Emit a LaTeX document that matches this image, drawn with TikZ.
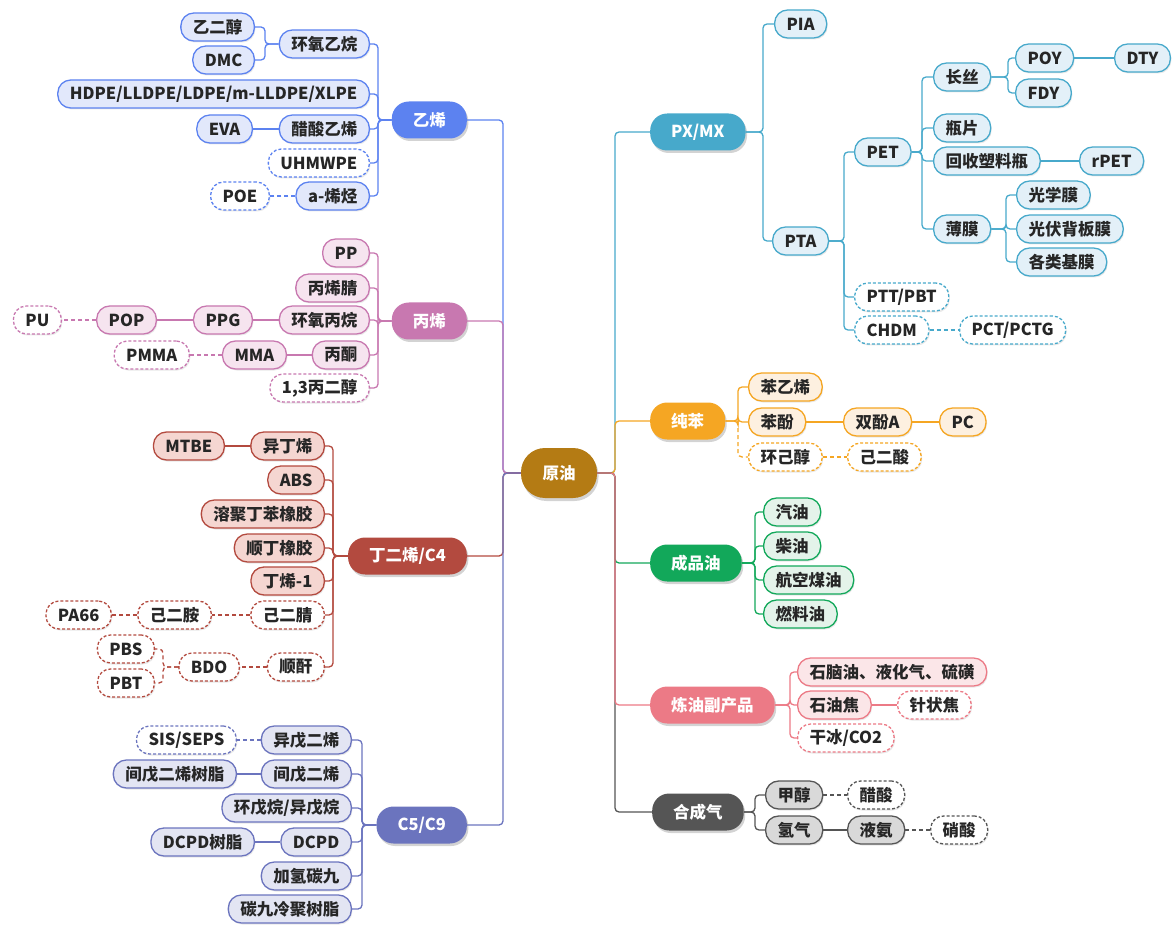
\documentclass[tikz,border=0pt]{standalone}
\usepackage{fontspec}
\setmainfont{Noto Sans CJK SC}
\usetikzlibrary{shadows}

% branch colours: A = line, B = fill
\definecolor{yyA}{HTML}{B47B14}
\definecolor{yxA}{HTML}{5C82F0} \definecolor{yxB}{HTML}{E2E8FB}
\definecolor{bxA}{HTML}{C878B0} \definecolor{bxB}{HTML}{F6E4EF}
\definecolor{dxA}{HTML}{B34A3F} \definecolor{dxB}{HTML}{F5D6D1}
\definecolor{cwA}{HTML}{6B74BE} \definecolor{cwB}{HTML}{E3E5F3}
\definecolor{pxA}{HTML}{47A9CB} \definecolor{pxB}{HTML}{E3F0F8}
\definecolor{cbA}{HTML}{F5A623} \definecolor{cbB}{HTML}{FDF0E0}
\definecolor{cpA}{HTML}{12A85A} \definecolor{cpB}{HTML}{E4F3EA}
\definecolor{lyA}{HTML}{EC7A86} \definecolor{lyB}{HTML}{FBE6E8}
\definecolor{hcA}{HTML}{555555} \definecolor{hcB}{HTML}{D9D9D9}

\newcommand\mfont{\fontsize{16.5}{18}\selectfont\bfseries}

\tikzset{
  rootbox/.style={fill=yyA, text=white, font=\mfont, rounded corners=24pt,
    minimum height=50pt, minimum width=76pt, inner xsep=20pt, inner ysep=0pt,
    drop shadow={shadow xshift=1.5pt, shadow yshift=-3pt, opacity=0.35}},
  mainbox/.style={fill=#1A, text=white, font=\mfont, rounded corners=17pt,
    minimum height=37pt, inner xsep=21pt, inner ysep=0pt,
    drop shadow={shadow xshift=1.5pt, shadow yshift=-2.5pt, opacity=0.35}},
  kid/.style={draw=#1A, fill=#1B, line width=1.3pt, text=black!85, font=\mfont,
    rounded corners=13pt, minimum height=28pt, inner xsep=12pt, inner ysep=0pt,
    drop shadow={shadow xshift=1pt, shadow yshift=-1.5pt, opacity=0.18}},
  dkid/.style={kid=#1, fill=white, dash pattern=on 3pt off 2pt},
  lk/.style={draw=#1A, line width=1.3pt, rounded corners=4pt},
  dlk/.style={lk=#1, dash pattern=on 4pt off 3pt},
}

\begin{document}
\begin{tikzpicture}[x=1pt, y=-1pt]
\useasboundingbox (0,0) rectangle (1173,925);

% root
\node[rootbox] (root) at (559,473) {原油};
\coordinate (tl) at (503,473);
\coordinate (tr) at (615,473);

% ---------- 乙烯 ----------
\node[mainbox=yx, anchor=east] (yx) at (467,120) {乙烯};
\node[kid=yx, anchor=east] (yx1) at (370,44) {环氧乙烷};
\node[kid=yx, anchor=east] (yx2) at (370,94) {HDPE/LLDPE/LDPE/m-LLDPE/XLPE};
\node[kid=yx, anchor=east] (yx3) at (370,129) {醋酸乙烯};
\node[dkid=yx, anchor=east] (yx4) at (370,163) {UHMWPE};
\node[kid=yx, anchor=east] (yx5) at (370,196) {a-烯烃};
\node[kid=yx, anchor=east] (yx11) at (255,27) {乙二醇};
\node[kid=yx, anchor=east] (yx12) at (255,60) {DMC};
\node[kid=yx, anchor=east] (yx31) at (253,129) {EVA};
\node[dkid=yx, anchor=east] (yx51) at (270,196) {POE};
\coordinate (yxbus) at (378,120);
\coordinate (yx1bus) at (265,44);

% ---------- 丙烯 ----------
\node[mainbox=bx, anchor=east] (bx) at (467,321) {丙烯};
\node[kid=bx, anchor=east] (bx1) at (370,253) {PP};
\node[kid=bx, anchor=east] (bx2) at (370,288) {丙烯腈};
\node[kid=bx, anchor=east] (bx3) at (370,320) {环氧丙烷};
\node[kid=bx, anchor=east] (bx4) at (370,355) {丙酮};
\node[dkid=bx, anchor=east] (bx5) at (370,388) {1,3丙二醇};
\node[kid=bx, anchor=east] (bx31) at (253,320) {PPG};
\node[kid=bx, anchor=east] (bx311) at (157,320) {POP};
\node[dkid=bx, anchor=east] (bx3111) at (62,320) {PU};
\node[kid=bx, anchor=east] (bx41) at (287,355) {MMA};
\node[dkid=bx, anchor=east] (bx411) at (190,355) {PMMA};
\coordinate (bxbus) at (378,321);

% ---------- 丁二烯/C4 ----------
\node[mainbox=dx, anchor=east] (dx) at (467,556) {丁二烯/C4};
\node[kid=dx, anchor=east] (dx1) at (325,446) {异丁烯};
\node[kid=dx, anchor=east] (dx2) at (325,480) {ABS};
\node[kid=dx, anchor=east] (dx3) at (325,514) {溶聚丁苯橡胶};
\node[kid=dx, anchor=east] (dx4) at (325,548) {顺丁橡胶};
\node[kid=dx, anchor=east] (dx5) at (325,581) {丁烯-1};
\node[dkid=dx, anchor=east] (dx6) at (325,615) {己二腈};
\node[dkid=dx, anchor=east] (dx7) at (325,667) {顺酐};
\node[kid=dx, anchor=east] (dx11) at (225,446) {MTBE};
\node[dkid=dx, anchor=east] (dx61) at (212,615) {己二胺};
\node[dkid=dx, anchor=east] (dx611) at (112,615) {PA66};
\node[dkid=dx, anchor=east] (dx71) at (240,667) {BDO};
\node[dkid=dx, anchor=east] (dx711) at (155,649) {PBS};
\node[dkid=dx, anchor=east] (dx712) at (155,683) {PBT};
\coordinate (dxbus) at (333,556);
\coordinate (dx7bus) at (163,667);

% ---------- C5/C9 ----------
\node[mainbox=cw, anchor=east] (cw) at (467,825) {C5/C9};
\node[kid=cw, anchor=east] (cw1) at (352,740) {异戊二烯};
\node[kid=cw, anchor=east] (cw2) at (352,774) {间戊二烯};
\node[kid=cw, anchor=east] (cw3) at (352,808) {环戊烷/异戊烷};
\node[kid=cw, anchor=east] (cw4) at (352,842) {DCPD};
\node[kid=cw, anchor=east] (cw5) at (352,876) {加氢碳九};
\node[kid=cw, anchor=east] (cw6) at (352,909) {碳九冷聚树脂};
\node[dkid=cw, anchor=east] (cw11) at (237,740) {SIS/SEPS};
\node[kid=cw, anchor=east] (cw21) at (237,774) {间戊二烯树脂};
\node[kid=cw, anchor=east] (cw41) at (255,842) {DCPD树脂};
\coordinate (cwbus) at (362,825);

% ---------- PX/MX ----------
\node[mainbox=px, anchor=west] (px) at (650,132) {PX/MX};
\node[kid=px, anchor=west] (px1) at (774,24) {PIA};
\node[kid=px, anchor=west] (px2) at (772,241) {PTA};
\node[kid=px, anchor=west] (px21) at (854,152) {PET};
\node[dkid=px, anchor=west] (px22) at (854,297) {PTT/PBT};
\node[dkid=px, anchor=west] (px23) at (854,330) {CHDM};
\node[dkid=px, anchor=west] (px231) at (959,330) {PCT/PCTG};
\node[kid=px, anchor=west] (px211) at (933,77) {长丝};
\node[kid=px, anchor=west] (px212) at (933,128) {瓶片};
\node[kid=px, anchor=west] (px213) at (933,161) {回收塑料瓶};
\node[kid=px, anchor=west] (px214) at (933,229) {薄膜};
\node[kid=px, anchor=west] (px2131) at (1079,161) {rPET};
\node[kid=px, anchor=west] (px2111) at (1015,58) {POY};
\node[kid=px, anchor=west] (px2112) at (1015,93) {FDY};
\node[kid=px, anchor=west] (px21111) at (1114,58) {DTY};
\node[kid=px, anchor=west] (px2141) at (1016,195) {光学膜};
\node[kid=px, anchor=west] (px2142) at (1016,229) {光伏背板膜};
\node[kid=px, anchor=west] (px2143) at (1016,262) {各类基膜};
\coordinate (pxbus) at (763,132);
\coordinate (px2bus) at (844,241);
\coordinate (px21bus) at (922,152);
\coordinate (px211bus) at (1008,77);
\coordinate (px214bus) at (1006,229);

% ---------- 纯苯 ----------
\node[mainbox=cb, anchor=west] (cb) at (650,421) {纯苯};
\node[kid=cb, anchor=west] (cb1) at (748,387) {苯乙烯};
\node[kid=cb, anchor=west] (cb2) at (748,422) {苯酚};
\node[dkid=cb, anchor=west] (cb3) at (748,457) {环己醇};
\node[kid=cb, anchor=west] (cb21) at (843,422) {双酚A};
\node[kid=cb, anchor=west] (cb211) at (939,422) {PC};
\node[dkid=cb, anchor=west] (cb31) at (847,457) {己二酸};
\coordinate (cbbus) at (738,421);

% ---------- 成品油 ----------
\node[mainbox=cp, anchor=west] (cp) at (650,563) {成品油};
\node[kid=cp, anchor=west] (cp1) at (763,512) {汽油};
\node[kid=cp, anchor=west] (cp2) at (763,546) {柴油};
\node[kid=cp, anchor=west] (cp3) at (763,580) {航空煤油};
\node[kid=cp, anchor=west] (cp4) at (763,614) {燃料油};
\coordinate (cpbus) at (755,563);

% ---------- 炼油副产品 ----------
\node[mainbox=ly, anchor=west] (ly) at (650,705) {炼油副产品};
\node[kid=ly, anchor=west] (ly1) at (797,672) {石脑油、液化气、硫磺};
\node[kid=ly, anchor=west] (ly2) at (797,705) {石油焦};
\node[dkid=ly, anchor=west] (ly3) at (797,738) {干冰/CO2};
\node[dkid=ly, anchor=west] (ly21) at (897,705) {针状焦};
\coordinate (lybus) at (790,705);

% ---------- 合成气 ----------
\node[mainbox=hc, anchor=west] (hc) at (652,812) {合成气};
\node[kid=hc, anchor=west] (hc1) at (765,795) {甲醇};
\node[kid=hc, anchor=west] (hc2) at (765,830) {氢气};
\node[dkid=hc, anchor=west] (hc11) at (847,795) {醋酸};
\node[kid=hc, anchor=west] (hc21) at (847,830) {液氨};
\node[dkid=hc, anchor=west] (hc211) at (930,830) {硝酸};
\coordinate (hcbus) at (755,812);

% trunk lines
\foreach \b in {yx,bx,dx,cw}
  \draw[lk=\b] (root.west) -- (tl) |- (\b.east);
\foreach \b in {px,cb,cp,hc,ly}
  \draw[lk=\b] (root.east) -- (tr) |- (\b.west);

% left links
\foreach \k in {yx1,yx2,yx3,yx4,yx5}
  \draw[lk=yx] (yx.west) -- (yxbus) |- (\k.east);
\foreach \k in {yx11,yx12}
  \draw[lk=yx] (yx1.west) -- (yx1bus) |- (\k.east);
\draw[lk=yx] (yx3) -- (yx31);
\draw[dlk=yx] (yx5) -- (yx51);

\foreach \k in {bx1,bx2,bx3,bx4,bx5}
  \draw[lk=bx] (bx.west) -- (bxbus) |- (\k.east);
\draw[lk=bx] (bx3) -- (bx31);
\draw[lk=bx] (bx31) -- (bx311);
\draw[dlk=bx] (bx311) -- (bx3111);
\draw[lk=bx] (bx4) -- (bx41);
\draw[dlk=bx] (bx41) -- (bx411);

\foreach \k in {dx1,dx2,dx3,dx4,dx5,dx6,dx7}
  \draw[lk=dx] (dx.west) -- (dxbus) |- (\k.east);
\draw[lk=dx] (dx1) -- (dx11);
\draw[dlk=dx] (dx6) -- (dx61);
\draw[dlk=dx] (dx61) -- (dx611);
\draw[dlk=dx] (dx7) -- (dx71);
\foreach \k in {dx711,dx712}
  \draw[dlk=dx] (dx71.west) -- (dx7bus) |- (\k.east);

\foreach \k in {cw1,cw2,cw3,cw4,cw5,cw6}
  \draw[lk=cw] (cw.west) -- (cwbus) |- (\k.east);
\draw[dlk=cw] (cw1) -- (cw11);
\draw[lk=cw] (cw2) -- (cw21);
\draw[lk=cw] (cw4) -- (cw41);

% right links
\foreach \k in {px1,px2}
  \draw[lk=px] (px.east) -- (pxbus) |- (\k.west);
\foreach \k in {px21,px22,px23}
  \draw[lk=px] (px2.east) -- (px2bus) |- (\k.west);
\foreach \k in {px211,px212,px213,px214}
  \draw[lk=px] (px21.east) -- (px21bus) |- (\k.west);
\foreach \k in {px2111,px2112}
  \draw[lk=px] (px211.east) -- (px211bus) |- (\k.west);
\foreach \k in {px2141,px2142,px2143}
  \draw[lk=px] (px214.east) -- (px214bus) |- (\k.west);
\draw[lk=px] (px2111) -- (px21111);
\draw[lk=px] (px213) -- (px2131);
\draw[dlk=px] (px23) -- (px231);

\foreach \k in {cb1,cb2}
  \draw[lk=cb] (cb.east) -- (cbbus) |- (\k.west);
\draw[dlk=cb] (cbbus) |- (cb3.west);
\draw[lk=cb] (cb2) -- (cb21);
\draw[lk=cb] (cb21) -- (cb211);
\draw[dlk=cb] (cb3) -- (cb31);

\foreach \k in {cp1,cp2,cp3,cp4}
  \draw[lk=cp] (cp.east) -- (cpbus) |- (\k.west);

\foreach \k in {ly1,ly2,ly3}
  \draw[lk=ly] (ly.east) -- (lybus) |- (\k.west);
\draw[lk=ly] (ly2) -- (ly21);

\foreach \k in {hc1,hc2}
  \draw[lk=hc] (hc.east) -- (hcbus) |- (\k.west);
\draw[dlk=hc] (hc1) -- (hc11);
\draw[lk=hc] (hc2) -- (hc21);
\draw[dlk=hc] (hc21) -- (hc211);
\end{tikzpicture}
\end{document}
